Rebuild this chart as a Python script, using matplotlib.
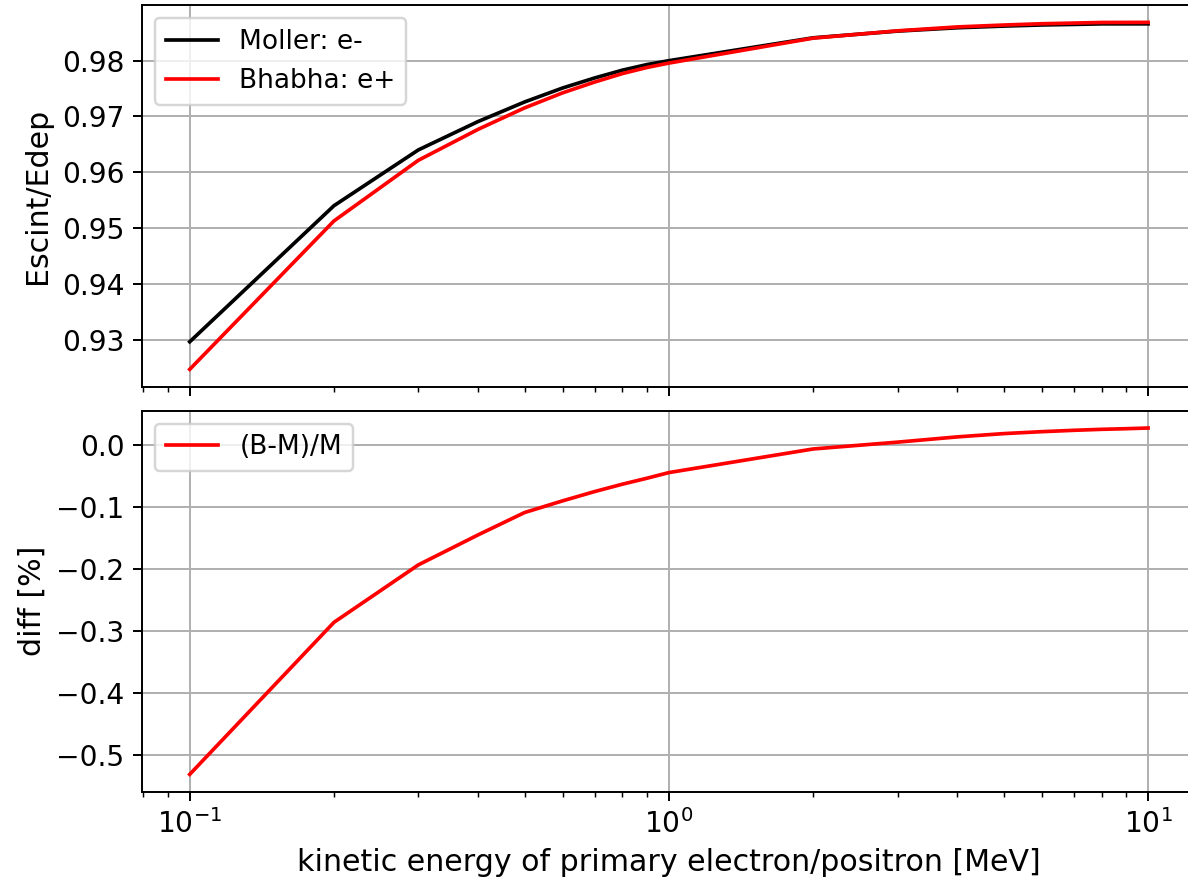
import matplotlib
matplotlib.use("Agg")
import matplotlib.pyplot as plt
from matplotlib.ticker import MultipleLocator

energy = [0.1, 0.2, 0.3, 0.4, 0.5, 0.6, 0.7, 0.8, 0.9, 1.0,
          2.0, 3.0, 4.0, 5.0, 6.0, 7.0, 8.0, 9.0, 10.0]
moller = [0.9296, 0.9540, 0.9640, 0.9691, 0.9726, 0.9751, 0.9769, 0.9783, 0.9793, 0.9800,
          0.9841, 0.9853, 0.9859, 0.9862, 0.9864, 0.9865, 0.9866, 0.9866, 0.9866]
bhabha = [0.92466, 0.95127, 0.96214, 0.96770, 0.97154, 0.97423, 0.97617, 0.97769, 0.97878, 0.97957,
          0.98404, 0.98535, 0.98605, 0.98639, 0.98662, 0.98674, 0.98685, 0.98686, 0.98687]
diff_pct = [-0.531, -0.2857, -0.193, -0.1445, -0.1085, -0.0897, -0.0747, -0.0628, -0.0532, -0.0441,
            -0.006, 0.005, 0.0135, 0.0188, 0.0219, 0.0241, 0.0257, 0.0267, 0.0278]

plt.rcParams["font.size"] = 11.5
plt.rcParams["axes.labelsize"] = 12.25
plt.rcParams["legend.fontsize"] = 10.8

dpi = 176
fig = plt.figure(figsize=(1188 / dpi, 884 / dpi), dpi=dpi)

W, H = 1188.0, 884.0
left = 141.8 / W
width = (1196.0 - 141.8) / W
ax1 = fig.add_axes([left, 1 - 386.7 / H, width, (386.7 - 5.0) / H])
ax2 = fig.add_axes([left, 1 - 791.7 / H, width, (791.7 - 410.7) / H], sharex=ax1)

ax1.plot(energy, moller, color="k", label="Moller: e-")
ax1.plot(energy, bhabha, color="r", label="Bhabha: e+")
ax1.set_xscale("log")
ax1.yaxis.set_major_locator(MultipleLocator(0.01))
ax1.set_ylabel("Escint/Edep")
ax1.grid(True)
ax1.legend(loc="upper left")
ax1.tick_params(labelbottom=False)

ax2.plot(energy, diff_pct, color="r", label="(B-M)/M")
ax2.set_xscale("log")
ax2.yaxis.set_major_locator(MultipleLocator(0.1))
ax2.set_ylabel("diff [%]")
ax2.set_xlabel("kinetic energy of primary electron/positron [MeV]")
ax2.grid(True)
ax2.legend(loc="upper left")

fig.align_ylabels([ax1, ax2])
fig.savefig("out.png", dpi=dpi)
